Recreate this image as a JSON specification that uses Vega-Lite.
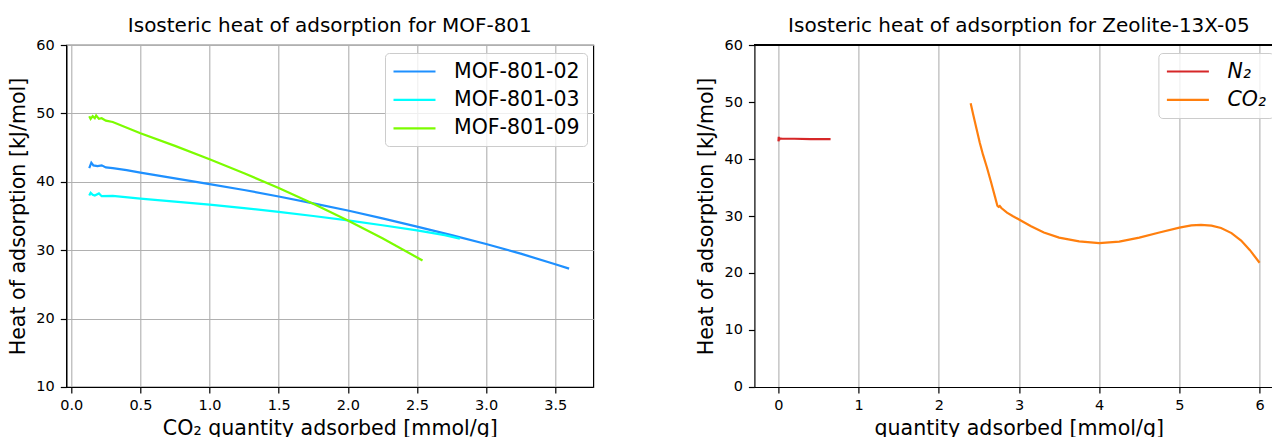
{
  "$schema": "https://vega.github.io/schema/vega-lite/v6.json",
  "padding": {"left": 7.3, "top": 14, "right": 0, "bottom": 0},
  "spacing": 102.1,
  "config": {
    "font": "DejaVu Sans",
    "view": {"stroke": "black", "strokeWidth": 1.2},
    "axis": {
      "domainColor": "black", "domainWidth": 1.2,
      "tickColor": "black", "tickWidth": 1.2, "tickSize": 6,
      "labelFontSize": 14.5, "labelColor": "black", "labelPadding": 6, "labelFlush": false, "labelOverlap": false,
      "titleFontSize": 20.6, "titleFontWeight": "normal", "titleColor": "black",
      "gridColor": "#b0b0b0", "gridWidth": 1.1
    },
    "axisY": {"minExtent": 30, "maxExtent": 30, "titlePadding": 7.6},
    "axisX": {"minExtent": 27, "maxExtent": 27, "titlePadding": 5},
    "title": {"fontSize": 20, "fontWeight": "normal", "color": "black", "offset": 1.5},
    "legend": {
      "orient": "none", "legendY": 8,
      "fillColor": "rgba(255,255,255,0.8)", "strokeColor": "#cccccc", "cornerRadius": 4,
      "padding": 7, "rowPadding": 6.4,
      "symbolType": "M-1,0L3.2,0", "symbolSize": 400, "symbolStrokeWidth": 2.2,
      "labelFontSize": 20.5, "labelOffset": 39, "labelColor": "black", "labelLimit": 300,
      "title": null
    }
  },
  "datasets": {
    "mof": [
      {"x": 0.13, "q": 42.0, "s": "MOF-801-02"},
      {"x": 0.145, "q": 42.8, "s": "MOF-801-02"},
      {"x": 0.16, "q": 42.4, "s": "MOF-801-02"},
      {"x": 0.19, "q": 42.3, "s": "MOF-801-02"},
      {"x": 0.22, "q": 42.4, "s": "MOF-801-02"},
      {"x": 0.25, "q": 42.1, "s": "MOF-801-02"},
      {"x": 0.3, "q": 42.0, "s": "MOF-801-02"},
      {"x": 0.4, "q": 41.7, "s": "MOF-801-02"},
      {"x": 0.5, "q": 41.35, "s": "MOF-801-02"},
      {"x": 0.75, "q": 40.5, "s": "MOF-801-02"},
      {"x": 1.0, "q": 39.65, "s": "MOF-801-02"},
      {"x": 1.25, "q": 38.8, "s": "MOF-801-02"},
      {"x": 1.5, "q": 37.85, "s": "MOF-801-02"},
      {"x": 1.75, "q": 36.85, "s": "MOF-801-02"},
      {"x": 2.0, "q": 35.8, "s": "MOF-801-02"},
      {"x": 2.25, "q": 34.65, "s": "MOF-801-02"},
      {"x": 2.5, "q": 33.45, "s": "MOF-801-02"},
      {"x": 2.75, "q": 32.2, "s": "MOF-801-02"},
      {"x": 3.0, "q": 30.9, "s": "MOF-801-02"},
      {"x": 3.25, "q": 29.5, "s": "MOF-801-02"},
      {"x": 3.5, "q": 27.95, "s": "MOF-801-02"},
      {"x": 3.6, "q": 27.3, "s": "MOF-801-02"},
      {"x": 0.13, "q": 38.0, "s": "MOF-801-03"},
      {"x": 0.14, "q": 38.4, "s": "MOF-801-03"},
      {"x": 0.155, "q": 38.1, "s": "MOF-801-03"},
      {"x": 0.17, "q": 38.0, "s": "MOF-801-03"},
      {"x": 0.2, "q": 38.3, "s": "MOF-801-03"},
      {"x": 0.22, "q": 37.9, "s": "MOF-801-03"},
      {"x": 0.3, "q": 37.95, "s": "MOF-801-03"},
      {"x": 0.5, "q": 37.55, "s": "MOF-801-03"},
      {"x": 0.75, "q": 37.1, "s": "MOF-801-03"},
      {"x": 1.0, "q": 36.65, "s": "MOF-801-03"},
      {"x": 1.25, "q": 36.15, "s": "MOF-801-03"},
      {"x": 1.5, "q": 35.6, "s": "MOF-801-03"},
      {"x": 1.75, "q": 35.0, "s": "MOF-801-03"},
      {"x": 2.0, "q": 34.35, "s": "MOF-801-03"},
      {"x": 2.25, "q": 33.65, "s": "MOF-801-03"},
      {"x": 2.5, "q": 32.9, "s": "MOF-801-03"},
      {"x": 2.7, "q": 32.2, "s": "MOF-801-03"},
      {"x": 2.81, "q": 31.7, "s": "MOF-801-03"},
      {"x": 0.13, "q": 49.6, "s": "MOF-801-09"},
      {"x": 0.14, "q": 49.2, "s": "MOF-801-09"},
      {"x": 0.155, "q": 49.6, "s": "MOF-801-09"},
      {"x": 0.17, "q": 49.3, "s": "MOF-801-09"},
      {"x": 0.18, "q": 49.7, "s": "MOF-801-09"},
      {"x": 0.2, "q": 49.2, "s": "MOF-801-09"},
      {"x": 0.22, "q": 49.3, "s": "MOF-801-09"},
      {"x": 0.25, "q": 48.95, "s": "MOF-801-09"},
      {"x": 0.3, "q": 48.75, "s": "MOF-801-09"},
      {"x": 0.5, "q": 47.1, "s": "MOF-801-09"},
      {"x": 0.75, "q": 45.25, "s": "MOF-801-09"},
      {"x": 1.0, "q": 43.3, "s": "MOF-801-09"},
      {"x": 1.25, "q": 41.25, "s": "MOF-801-09"},
      {"x": 1.5, "q": 39.1, "s": "MOF-801-09"},
      {"x": 1.75, "q": 36.8, "s": "MOF-801-09"},
      {"x": 2.0, "q": 34.35, "s": "MOF-801-09"},
      {"x": 2.25, "q": 31.75, "s": "MOF-801-09"},
      {"x": 2.54, "q": 28.5, "s": "MOF-801-09"}
    ],
    "zeo": [
      {"x": 0.0, "q": 43.1, "s": "N₂"},
      {"x": 0.004, "q": 43.9, "s": "N₂"},
      {"x": 0.008, "q": 43.3, "s": "N₂"},
      {"x": 0.015, "q": 43.6, "s": "N₂"},
      {"x": 0.05, "q": 43.55, "s": "N₂"},
      {"x": 0.2, "q": 43.55, "s": "N₂"},
      {"x": 0.4, "q": 43.5, "s": "N₂"},
      {"x": 0.65, "q": 43.5, "s": "N₂"},
      {"x": 2.397, "q": 49.8, "s": "CO₂"},
      {"x": 2.43, "q": 47.7, "s": "CO₂"},
      {"x": 2.47, "q": 45.3, "s": "CO₂"},
      {"x": 2.51, "q": 42.9, "s": "CO₂"},
      {"x": 2.55, "q": 40.8, "s": "CO₂"},
      {"x": 2.6, "q": 38.5, "s": "CO₂"},
      {"x": 2.65, "q": 36.0, "s": "CO₂"},
      {"x": 2.7, "q": 33.4, "s": "CO₂"},
      {"x": 2.73, "q": 31.8, "s": "CO₂"},
      {"x": 2.745, "q": 31.6, "s": "CO₂"},
      {"x": 2.76, "q": 31.75, "s": "CO₂"},
      {"x": 2.78, "q": 31.4, "s": "CO₂"},
      {"x": 2.85, "q": 30.6, "s": "CO₂"},
      {"x": 2.92, "q": 30.0, "s": "CO₂"},
      {"x": 3.0, "q": 29.4, "s": "CO₂"},
      {"x": 3.15, "q": 28.2, "s": "CO₂"},
      {"x": 3.31, "q": 27.1, "s": "CO₂"},
      {"x": 3.5, "q": 26.2, "s": "CO₂"},
      {"x": 3.75, "q": 25.55, "s": "CO₂"},
      {"x": 4.0, "q": 25.25, "s": "CO₂"},
      {"x": 4.25, "q": 25.5, "s": "CO₂"},
      {"x": 4.5, "q": 26.2, "s": "CO₂"},
      {"x": 4.75, "q": 27.1, "s": "CO₂"},
      {"x": 5.0, "q": 27.95, "s": "CO₂"},
      {"x": 5.15, "q": 28.35, "s": "CO₂"},
      {"x": 5.27, "q": 28.45, "s": "CO₂"},
      {"x": 5.4, "q": 28.3, "s": "CO₂"},
      {"x": 5.52, "q": 27.9, "s": "CO₂"},
      {"x": 5.65, "q": 27.0, "s": "CO₂"},
      {"x": 5.77, "q": 25.7, "s": "CO₂"},
      {"x": 5.88, "q": 24.0, "s": "CO₂"},
      {"x": 6.0, "q": 21.8, "s": "CO₂"}
    ]
  },
  "hconcat": [
    {
      "title": "Isosteric heat of adsorption for MOF-801",
      "width": 527, "height": 342,
      "data": {"name": "mof"},
      "mark": {"type": "line", "strokeWidth": 2.2, "clip": true},
      "encoding": {
        "x": {"field": "x", "type": "quantitative", "title": "CO₂ quantity adsorbed [mmol/g]",
              "scale": {"domain": [-0.036, 3.775], "nice": false, "zero": false},
              "axis": {"values": [0, 0.5, 1, 1.5, 2, 2.5, 3, 3.5], "format": ".1f"}},
        "y": {"field": "q", "type": "quantitative", "title": "Heat of adsorption [kJ/mol]",
              "scale": {"domain": [10, 60], "nice": false, "zero": false},
              "axis": {"values": [10, 20, 30, 40, 50, 60]}},
        "color": {"field": "s", "type": "nominal",
                  "scale": {"domain": ["MOF-801-02", "MOF-801-03", "MOF-801-09"], "range": ["#1e90ff", "#00ffff", "#7cfc00"]},
                  "legend": {"legendX": 318.7}},
        "order": {"field": "x", "type": "quantitative"}
      }
    },
    {
      "title": {"text": "Isosteric heat of adsorption for Zeolite-13X-05", "dx": 5.5},
      "width": 518, "height": 342,
      "view": {"stroke": null},
      "layer": [
        {
          "data": {"name": "zeo"},
          "mark": {"type": "rule", "color": "black", "strokeWidth": 1.2},
          "encoding": {"y": {"datum": 60}}
        },
        {
          "data": {"name": "zeo"},
          "mark": {"type": "line", "strokeWidth": 2.2, "clip": true},
          "encoding": {
            "x": {"field": "x", "type": "quantitative", "title": "quantity adsorbed [mmol/g]",
                  "scale": {"domain": [-0.3, 6.16], "nice": false, "zero": false},
                  "axis": {"values": [0, 1, 2, 3, 4, 5, 6], "format": "d", "titleX": 264.3}},
            "y": {"field": "q", "type": "quantitative", "title": "Heat of adsorption [kJ/mol]",
                  "scale": {"domain": [0, 60], "nice": false},
                  "axis": {"values": [0, 10, 20, 30, 40, 50, 60]}},
            "color": {"field": "s", "type": "nominal",
                      "scale": {"domain": ["N₂", "CO₂"], "range": ["#d62728", "#ff7f0e"]},
                      "legend": {"legendX": 404, "labelFontStyle": "italic"}},
            "order": {"field": "x", "type": "quantitative"}
          }
        }
      ],
      "resolve": {"scale": {"color": "independent"}}
    }
  ],
  "resolve": {"scale": {"color": "independent", "x": "independent", "y": "independent"}}
}
